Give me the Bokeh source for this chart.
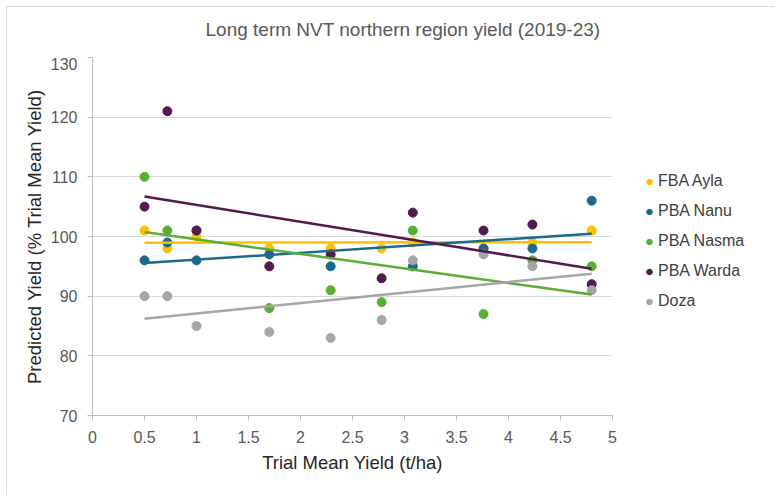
import numpy as np
from bokeh.plotting import figure
from bokeh.layouts import row, column
from bokeh.models import Range1d, FixedTicker, Legend, LegendItem, ColumnDataSource, Label
from bokeh.embed import file_html
from bokeh.resources import INLINE

# ---- data ----
trial_mean = [0.5, 0.72, 1.0, 1.7, 2.29, 2.78, 3.08, 3.76, 4.23, 4.8]
nan = float("nan")
fba_ayla  = [101, 98, 100, 98, 98, 98, 99, 98, 99, 101]
pba_nanu  = [96, 99, 96, 97, 95, nan, 95, 98, 98, 106]
pba_nasma = [110, 101, 101, 88, 91, 89, 101, 87, 96, 95]
pba_warda = [105, 121, 101, 95, 97, 93, 104, 101, 102, 92]
doza      = [90, 90, 85, 84, 83, 86, 96, 97, 95, 91]

series_names = ["FBA Ayla", "PBA Nanu", "PBA Nasma", "PBA Warda", "Doza"]
series_values = [fba_ayla, pba_nanu, pba_nasma, pba_warda, doza]
series_colors = ["#FFC000", "#1B6A8C", "#5AAE32", "#521A4E", "#A6A6A6"]

x_ticks = [0, 0.5, 1, 1.5, 2, 2.5, 3, 3.5, 4, 4.5, 5]
x_tick_labels = ["0", "0.5", "1", "1.5", "2", "2.5", "3", "3.5", "4", "4.5", "5"]
y_ticks = [70, 80, 90, 100, 110, 120, 130]

title_text = "Long term NVT northern region yield (2019-23)"
x_label = "Trial Mean Yield (t/ha)"
y_label = "Predicted Yield (% Trial Mean Yield)"

FONT = "Liberation Sans"


def bare_figure(w, h, **kw):
    f = figure(width=w, height=h, x_range=Range1d(0, 1), y_range=Range1d(0, 1),
               x_axis_type=None, y_axis_type=None,
               output_backend="svg", toolbar_location=None, **kw)
    f.grid.visible = False
    f.outline_line_color = None
    f.background_fill_color = "white"
    f.border_fill_color = "white"
    return f


# ---- title strip ----
pt = bare_figure(767, 50, min_border_left=0, min_border_right=0,
                 min_border_top=0, min_border_bottom=0)
pt.add_layout(Label(x=198, y=28, x_units="screen", y_units="screen", text=title_text,
                    text_font=FONT, text_font_size="19px", text_color="#595959",
                    text_align="left", text_baseline="middle"))

# ---- main chart ----
p = figure(width=625, height=437,
           x_range=Range1d(0, 5), y_range=Range1d(70, 130),
           output_backend="svg", toolbar_location=None,
           min_border_left=85, min_border_right=20,
           min_border_top=0, min_border_bottom=79)
p.outline_line_color = None
p.background_fill_color = "white"
p.border_fill_color = "white"

for ax in (p.xaxis[0], p.yaxis[0]):
    ax.axis_line_color = "#BFBFBF"
    ax.major_tick_line_color = "#BFBFBF"
    ax.minor_tick_line_color = None
    ax.major_tick_in = 0
    ax.major_tick_out = 5
    ax.major_label_text_font = FONT
    ax.major_label_text_font_size = "16px"
    ax.major_label_text_color = "#595959"
    ax.axis_label_text_font = FONT
    ax.axis_label_text_font_size = "18.5px"
    ax.axis_label_text_font_style = "normal"
    ax.axis_label_text_color = "#262626"

p.xaxis.ticker = FixedTicker(ticks=x_ticks)
p.xaxis.major_label_overrides = {t: l for t, l in zip(x_ticks, x_tick_labels)}
p.yaxis.ticker = FixedTicker(ticks=y_ticks)
p.xaxis.axis_label = x_label
p.yaxis.axis_label = y_label
p.xaxis.major_label_standoff = 10
p.yaxis.major_label_standoff = 10
p.xaxis.axis_label_standoff = 6
p.yaxis.axis_label_standoff = 3

p.xgrid.visible = False
p.ygrid.grid_line_color = "#D9D9D9"
p.ygrid.grid_line_width = 1

x_arr = np.array(trial_mean, dtype=float)
for name, vals, col in zip(series_names, series_values, series_colors):
    src = ColumnDataSource(dict(x=trial_mean, y=vals))
    p.scatter("x", "y", source=src, size=9, fill_color=col, line_color=col)

# linear trendlines (least squares through each series)
for name, vals, col in zip(series_names, series_values, series_colors):
    y_arr = np.array(vals, dtype=float)
    m = ~np.isnan(y_arr)
    slope, icpt = np.polyfit(x_arr[m], y_arr[m], 1)
    xs = [x_arr[m].min(), x_arr[m].max()]
    ys = [slope * xv + icpt for xv in xs]
    p.line(xs, ys, line_color=col, line_width=2.5)

# ---- legend panel (its frame is aligned with the chart frame by the row) ----
p2 = bare_figure(142, 437, min_border_left=10, min_border_right=0,
                 min_border_top=0, min_border_bottom=0)
items = []
for name, col in zip(series_names, series_colors):
    r = p2.scatter(x=[nan], y=[nan], size=9, fill_color=col, line_color=col)
    items.append(LegendItem(label=name, renderers=[r]))

legend = Legend(items=items, location=(0, 105))
legend.border_line_color = None
legend.background_fill_alpha = 0
legend.label_text_font = FONT
legend.label_text_font_size = "16px"
legend.label_text_color = "#404040"
legend.glyph_width = 14
legend.glyph_height = 15
legend.label_standoff = 2
legend.spacing = 12
legend.margin = 0
legend.padding = 4
p2.add_layout(legend, "center")

layout = column(pt, row(p, p2, spacing=0), spacing=0)
layout.styles = {"border-left": "1px solid #D9D9D9", "border-top": "1px solid #D9D9D9",
                 "margin-left": "6px", "margin-top": "6px"}

open("out.html", "w").write(file_html(layout, INLINE))
